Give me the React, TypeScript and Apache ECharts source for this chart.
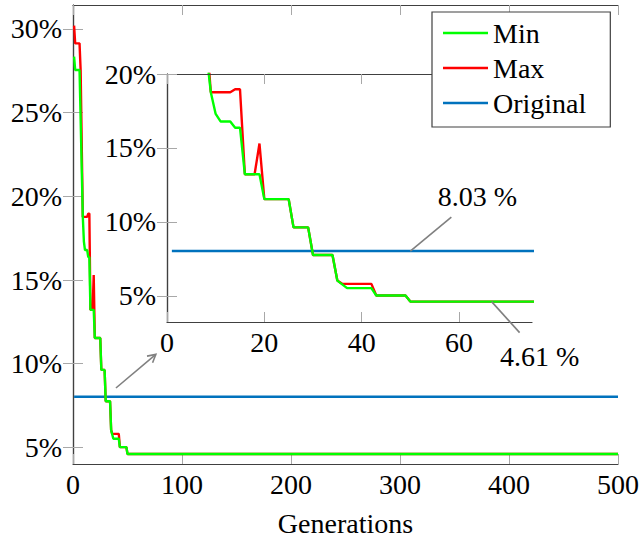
import React, { useEffect, useRef } from "react";
import * as echarts from "echarts";

// ---- data ----
const minGenerations = [1, 2, 6, 9, 10, 11, 13, 14, 15, 16, 19, 20, 25, 26, 29, 30, 34, 35, 37, 42, 43, 49, 50, 500];
const minValues = [28.35, 27.55, 27.55, 18.77, 17.3, 16.79, 16.79, 16.37, 16.37, 13.22, 13.22, 11.54, 11.54, 9.63, 9.63, 7.76, 7.76, 6.03, 5.52, 5.52, 5.02, 5.02, 4.61, 4.61];

const maxGenerations = [1, 2, 6, 7, 9, 13, 14, 15, 16, 18, 19, 20, 25, 26, 29, 30, 34, 35, 36, 42, 43, 49, 50, 500];
const maxValues = [30.2, 29.14, 29.14, 27.55, 18.77, 18.77, 18.97, 18.97, 13.22, 13.22, 15.3, 11.54, 11.54, 9.63, 9.63, 7.76, 7.76, 6.03, 5.81, 5.81, 5.02, 5.02, 4.61, 4.61];

const originalGenerations = [1, 500];
const originalValues = [8.03, 8.03];

const mainXTicks = [0, 100, 200, 300, 400, 500];
const mainYTicks = [5, 10, 15, 20, 25, 30];
const insetXTicks = [0, 20, 40, 60];
const insetYTicks = [5, 10, 15, 20];

const legendNames = ["Min", "Max", "Original"];
const annotationLabels = ["8.03 %", "4.61 %"];
const annotationGenerations = [50, 66.7];
const annotationValues = [8.03, 4.61];

const FONT = "Liberation Serif";
const FS = 28;
const GREEN = "#00ff00";
const RED = "#ff0000";
const BLUE = "#0072bd";
const AXIS = "#404040";
const TICK = "#a8a8a8";

const zip = (xs: number[], ys: number[]) => xs.map((x, i) => [x, ys[i]]);

function axisPair(kind: "x" | "y", gridIndex: number, min: number, max: number, ticks: number[], withLabel: boolean, fmt: (v: number) => string, z: number, margin: number) {
  const common = {
    type: "value",
    gridIndex,
    min,
    max,
    z,
    splitLine: { show: false },
    axisLine: { show: true, lineStyle: { color: AXIS, width: 1.2 } },
    axisTick: { show: true, inside: true, length: 10, lineStyle: { color: TICK, width: 1 }, customValues: ticks },
  };
  const main = {
    ...common,
    position: kind === "x" ? "bottom" : "left",
    axisLabel: {
      show: withLabel,
      customValues: ticks,
      formatter: fmt,
      fontSize: FS,
      fontFamily: FONT,
      color: "#000",
      margin,
    },
  };
  const mirror = {
    ...common,
    position: kind === "x" ? "top" : "right",
    axisLabel: { show: false },
  };
  return [main, mirror];
}

export default function App() {
  const ref = useRef<HTMLDivElement>(null);
  useEffect(() => {
    document.body.style.margin = "0";
    if (!ref.current) return;
    const chart = echarts.init(ref.current, null, { renderer: "svg" });

    const xAxes = [
      ...axisPair("x", 0, 0, 500, mainXTicks, true, (v) => String(v), 0, 6),
      ...axisPair("x", 1, 0, 75, insetXTicks, true, (v) => String(v), 6, 6),
    ];
    const yAxes = [
      ...axisPair("y", 0, 4.01, 31.43, mainYTicks, true, (v) => v + "%", 0, 11),
      ...axisPair("y", 1, 3.23, 20, insetYTicks, true, (v) => v + "%", 6, 11),
    ];
    (xAxes[0] as any).name = "Generations";
    (xAxes[0] as any).nameLocation = "middle";
    (xAxes[0] as any).nameGap = 45;
    (xAxes[0] as any).nameTextStyle = { fontSize: FS, fontFamily: FONT, color: "#000" };

    const mk = (name: string, data: number[][], color: string, xi: number, yi: number, z: number) => ({
      name,
      type: "line",
      data,
      xAxisIndex: xi,
      yAxisIndex: yi,
      symbol: "none",
      showSymbol: false,
      color,
      itemStyle: { color },
      lineStyle: { color, width: 2.4 },
      z,
      clip: true,
      silent: true,
    });

    const orig = zip(originalGenerations, originalValues);
    const mx = zip(maxGenerations, maxValues);
    const mn = zip(minGenerations, minValues);

    chart.setOption({
      animation: false,
      textStyle: { fontFamily: FONT },
      grid: [
        { left: 73, top: 5, width: 545, height: 459, show: false, outerBoundsMode: "none", containLabel: false },
        { left: 167, top: 74, width: 365, height: 248, show: true, backgroundColor: "#fff", borderWidth: 0, z: 3, outerBoundsMode: "none", containLabel: false },
      ],
      xAxis: xAxes,
      yAxis: yAxes,
      legend: {
        data: legendNames,
        orient: "vertical",
        left: 432,
        top: 12,
        backgroundColor: "#fff",
        borderColor: AXIS,
        borderWidth: 1.2,
        padding: [6, 24, 9, 11],
        itemWidth: 45,
        itemHeight: 2.4,
        itemGap: 5,
        icon: "rect",
        selectedMode: false,
        z: 10,
        textStyle: { fontSize: FS, fontFamily: FONT, color: "#000", lineHeight: 30 },
      },
      series: [
        mk("Original", orig, BLUE, 0, 0, 2),
        mk("Max", mx, RED, 0, 0, 2),
        mk("Min", mn, GREEN, 0, 0, 2),
        mk("Original", orig, BLUE, 2, 2, 5),
        mk("Max", mx, RED, 2, 2, 5),
        mk("Min", mn, GREEN, 2, 2, 5),
      ],
    });

    // annotations positioned from data coordinates
    const inset = { xAxisIndex: 2, yAxisIndex: 2 };
    const mainF = { xAxisIndex: 0, yAxisIndex: 0 };
    const a0 = chart.convertToPixel(inset as any, [annotationGenerations[0], annotationValues[0]]) as number[];
    const a1 = chart.convertToPixel(inset as any, [annotationGenerations[1], annotationValues[1]]) as number[];
    const s = chart.convertToPixel(mainF as any, [39.4, 8.55]) as number[];
    const e = chart.convertToPixel(mainF as any, [76, 10.56]) as number[];
    const dx = e[0] - s[0], dy = e[1] - s[1];
    const len = Math.hypot(dx, dy);
    const ux = dx / len, uy = dy / len;
    const hl = 9, ang = 0.5;
    const rot = (a: number) => [
      e[0] - hl * (ux * Math.cos(a) - uy * Math.sin(a)),
      e[1] - hl * (ux * Math.sin(a) + uy * Math.cos(a)),
    ];
    const gray = { stroke: "#808080", lineWidth: 1.6 };
    const txt = (t: string) => ({ text: t, fontSize: FS, fontFamily: FONT, fill: "#000", align: "center", verticalAlign: "middle" });
    chart.setOption({
      graphic: [
        { type: "line", z: 20, shape: { x1: a0[0], y1: a0[1], x2: a0[0] + 41, y2: a0[1] - 34 }, style: gray },
        { type: "text", z: 20, x: a0[0] + 67, y: a0[1] - 55, style: txt(annotationLabels[0]) },
        { type: "line", z: 20, shape: { x1: a1[0], y1: a1[1], x2: a1[0] + 28, y2: a1[1] + 31 }, style: gray },
        { type: "text", z: 20, x: a1[0] + 48, y: a1[1] + 55, style: txt(annotationLabels[1]) },
        { type: "line", z: 20, shape: { x1: s[0], y1: s[1], x2: e[0], y2: e[1] }, style: gray },
        { type: "polyline", z: 20, shape: { points: [rot(ang), e, rot(-ang)] }, style: { ...gray, fill: null } },
      ],
    });

    return () => chart.dispose();
  }, []);
  return <div ref={ref} style={{ width: 641, height: 542 }} />;
}
